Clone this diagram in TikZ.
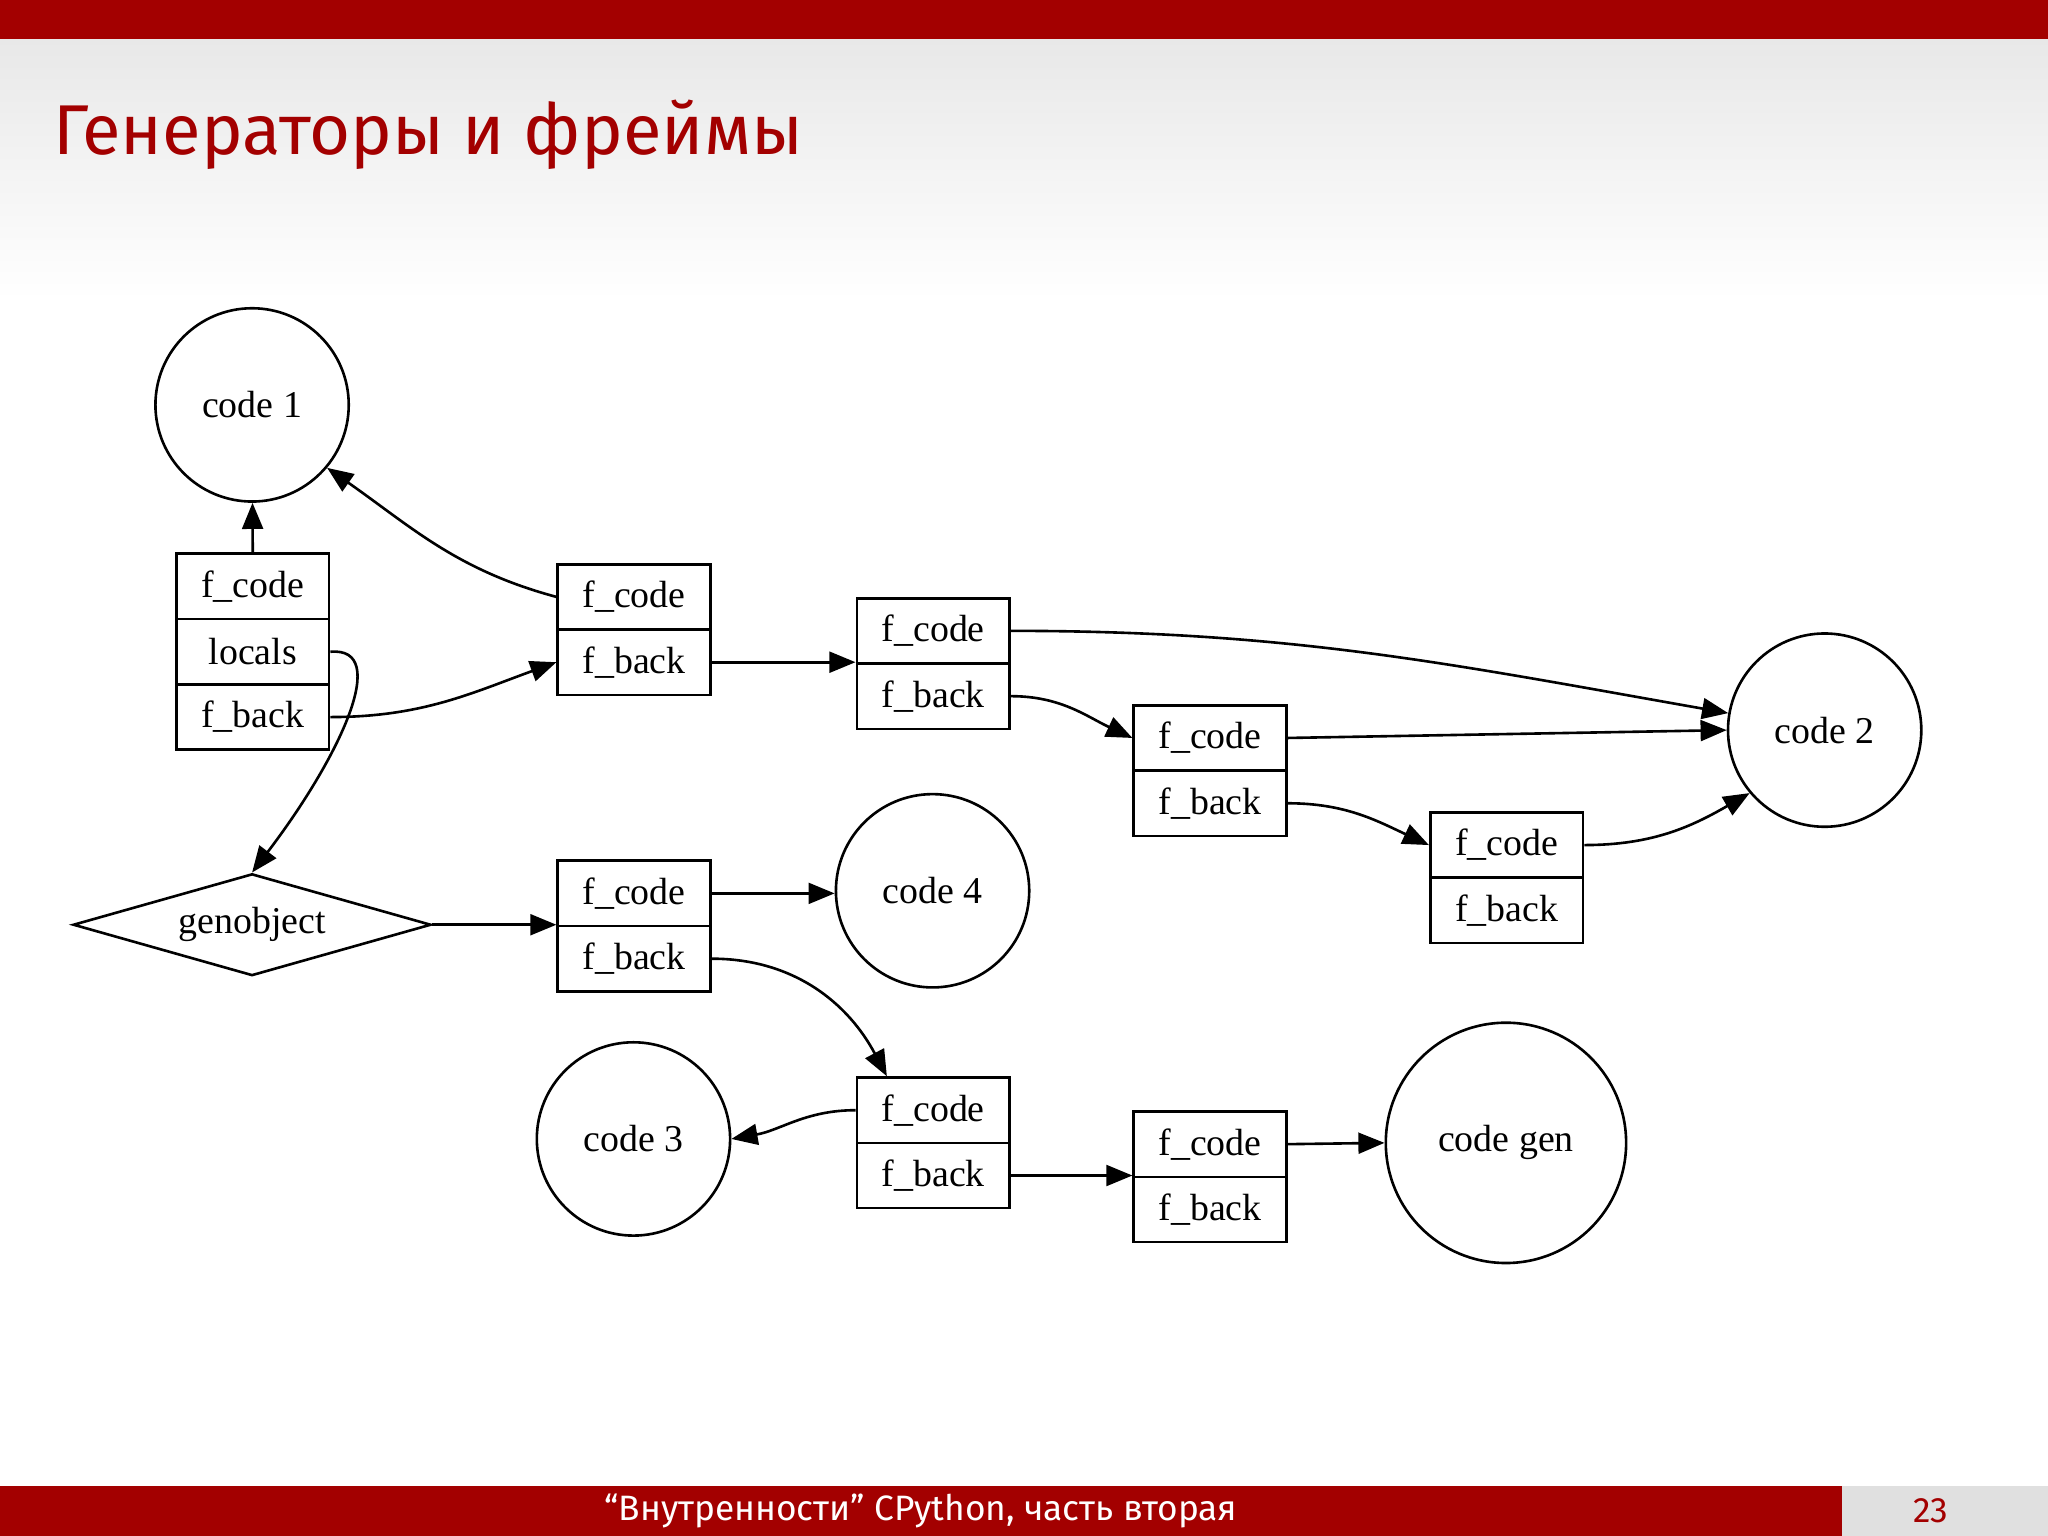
\documentclass[tikz,border=0pt]{standalone}
\usepackage{fontspec}
\setmainfont{Liberation Serif}
\newfontfamily\slidefont{Fira Sans}
\usetikzlibrary{shapes.geometric,arrows.meta}
\definecolor{slred}{RGB}{163,0,0}
\begin{document}
\begin{tikzpicture}[x=0.5pt,y=-0.5pt,
  every node/.style={font=\fontsize{14.5}{16}\selectfont},
  cell/.style={draw,line width=1pt,minimum width=58.5pt,minimum height=25pt,inner sep=0pt},
  circ/.style={draw,circle,line width=1pt,minimum size=74pt,inner sep=0pt},
  arr/.style={line width=1pt,-{Triangle[length=10pt,width=8pt]}}]
\useasboundingbox (0,0) rectangle (1568,1176);
\shade[top color=black!9,bottom color=white] (0,30) rectangle (1568,230);
\fill[slred] (0,0) rectangle (1568,30);
\fill[slred] (0,1138) rectangle (1410,1176);
\fill[black!12] (1410,1138) rectangle (1568,1176);
\node[anchor=west,text=slred,font=\slidefont\fontsize{27}{30}\selectfont] (title) at (34,103) {Генераторы и фреймы};
\node[text=white,font=\slidefont\fontsize{13.5}{15}\selectfont] (foot) at (705,1157) {“Внутренности” CPython, часть вторая};
\node[text=slred,font=\slidefont\fontsize{13.5}{15}\selectfont] (page) at (1478,1157) {23};

\node[circ] (c1) at (193,310) {code 1};
\node[circ] (c2) at (1397,559) {code 2};
\node[circ] (c4) at (714,682) {code 4};
\node[circ] (c3) at (485,872) {code 3};
\node[circ,minimum size=92pt] (cg) at (1153,875) {code gen};
\node[draw,diamond,aspect=3.5,line width=1pt,minimum width=137pt,minimum height=39pt,inner sep=0pt] (gen) at (193,708) {genobject};

\node[cell] (Ac) at (193.5,449) {f\_code};
\node[cell] (Al) at (193.5,499) {locals};
\node[cell] (Ab) at (193.5,549) {f\_back};
\node[cell] (Bc) at (485.5,457) {f\_code};
\node[cell] (Bb) at (485.5,507) {f\_back};
\node[cell] (Cc) at (714.5,483) {f\_code};
\node[cell] (Cb) at (714.5,533) {f\_back};
\node[cell] (Dc) at (926.5,565) {f\_code};
\node[cell] (Db) at (926.5,615) {f\_back};
\node[cell] (Ec) at (1153.5,647) {f\_code};
\node[cell] (Eb) at (1153.5,697) {f\_back};
\node[cell] (Fc) at (485.5,684) {f\_code};
\node[cell] (Fb) at (485.5,734) {f\_back};
\node[cell] (Gc) at (714.5,850) {f\_code};
\node[cell] (Gb) at (714.5,900) {f\_back};
\node[cell] (Hc) at (926.5,876) {f\_code};
\node[cell] (Hb) at (926.5,926) {f\_back};

\draw[arr] (Ac.north) -- (c1);
\draw[arr] (Bc.west) to[out=165,in=-35] (c1.-40);
\draw[arr] (Ab.east) to[out=0,in=200] (Bb.west);
\draw[arr] (Al.east) .. controls (300,495) and (260,580) .. (gen.north);
\draw[arr] (Bb.east) -- (Cb.west |- Bb.east);
\draw[arr] (Cc.east) to[out=0,in=170] (c2.170);
\draw[arr] (Cb.east) to[out=0,in=155] (Dc.west);
\draw[arr] (Dc.east) -- (c2.west);
\draw[arr] (Db.east) to[out=0,in=155] (Ec.west);
\draw[arr] (Ec.east) to[out=0,in=210] (c2.-140);
\draw[arr] (gen.east) -- (Fb.west |- gen.east);
\draw[arr] (Fc.east) -- (c4.west |- Fc.east);
\draw[arr] (Fb.east) to[out=0,in=118] ([xshift=12pt]Gc.north west);
\draw[arr] (Gc.west) to[out=180,in=10] (c3.east);
\draw[arr] (Gb.east) -- (Hb.west |- Gb.east);
\draw[arr] (Hc.east) -- (cg.west);
\end{tikzpicture}
\end{document}
